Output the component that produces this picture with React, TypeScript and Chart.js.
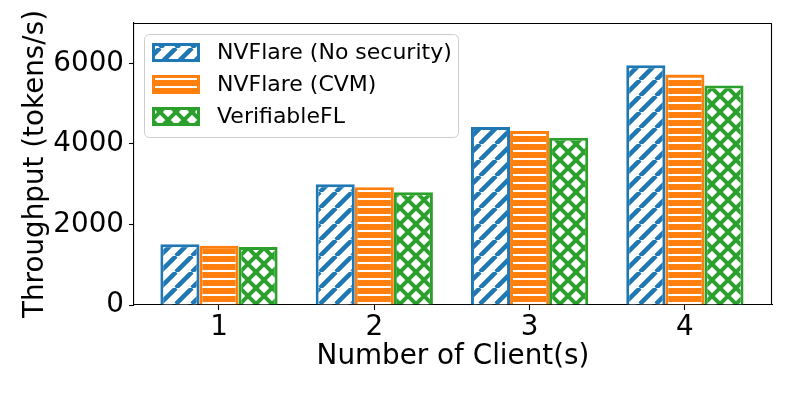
import React, { useEffect, useRef } from 'react';
import { Chart, registerables } from 'chart.js';

Chart.register(...registerables);

const CATEGORIES = [1, 2, 3, 4];
const TICK_LABELS = ['1', '2', '3', '4'];
const SERIES_NAMES = ['NVFlare (No security)', 'NVFlare (CVM)', 'VerifiableFL'];
const NO_SECURITY = [1510, 3000, 4420, 5950];
const CVM = [1470, 2920, 4320, 5720];
const VERIFIABLE_FL = [1440, 2800, 4150, 5450];
const Y_TICKS = [0, 2000, 4000, 6000];
const COLORS = ['#1f77b4', '#ff7f0e', '#2ca02c'];
const HATCHES = ['diag', 'horiz', 'cross'];

const FONT = "'DejaVu Sans', sans-serif";

function makePattern(ctx: CanvasRenderingContext2D, kind: string, color: string): CanvasPattern | string {
  const c = document.createElement('canvas');
  const g = c.getContext('2d');
  if (!g) return color;
  if (kind === 'diag') {
    const s = 16;
    c.width = s; c.height = s;
    g.fillStyle = '#fff'; g.fillRect(0, 0, s, s);
    g.strokeStyle = color; g.lineWidth = 4.5;
    g.beginPath();
    for (const k of [-1, 0, 1]) { g.moveTo(k * s, s); g.lineTo(k * s + s, 0); }
    g.stroke();
  } else if (kind === 'horiz') {
    c.width = 8; c.height = 8;
    g.fillStyle = '#fff'; g.fillRect(0, 0, 8, 8);
    g.fillStyle = color; g.fillRect(0, 0, 8, 6);
  } else {
    const s = 16;
    c.width = s; c.height = s;
    g.fillStyle = '#fff'; g.fillRect(0, 0, s, s);
    g.strokeStyle = color; g.lineWidth = 4;
    g.beginPath();
    for (const k of [-1, 0, 1]) {
      g.moveTo(k * s, s); g.lineTo(k * s + s, 0);
      g.moveTo(k * s, 0); g.lineTo(k * s + s, s);
    }
    g.stroke();
  }
  return ctx.createPattern(c, 'repeat') || color;
}

const mplPlugin = {
  id: 'mplDecor',
  afterDraw(chart: any) {
    const ctx: CanvasRenderingContext2D = chart.ctx;
    const a = chart.chartArea;
    ctx.save();
    // top and right spines
    ctx.strokeStyle = '#000';
    ctx.lineWidth = 1.1;
    ctx.beginPath();
    ctx.moveTo(a.left, a.top + 0.5);
    ctx.lineTo(a.right - 0.5, a.top + 0.5);
    ctx.lineTo(a.right - 0.5, a.bottom);
    ctx.stroke();
    // legend box
    ctx.beginPath();
    (ctx as any).roundRect(144.5, 34.5, 314, 103, 5);
    ctx.fillStyle = 'rgba(255,255,255,0.8)';
    ctx.fill();
    ctx.strokeStyle = '#cccccc';
    ctx.lineWidth = 1;
    ctx.stroke();
    chart.data.datasets.forEach((ds: any, i: number) => {
      const cy = 52.5 + i * 32;
      ctx.fillStyle = ds.backgroundColor;
      ctx.fillRect(153.5, cy - 8, 45, 16);
      ctx.strokeStyle = ds.borderColor;
      ctx.lineWidth = 3;
      ctx.strokeRect(153.5, cy - 8, 45, 16);
      ctx.fillStyle = '#000';
      ctx.font = `22px ${FONT}`;
      ctx.textBaseline = 'middle';
      ctx.textAlign = 'left';
      ctx.fillText(ds.label, 217, cy + 1);
    });
    ctx.restore();
  },
};

export default function App() {
  const ref = useRef<HTMLCanvasElement | null>(null);

  useEffect(() => {
    document.body.style.margin = '0';
    const canvas = ref.current;
    if (!canvas) return;
    const ctx = canvas.getContext('2d');
    if (!ctx) return;
    const seriesValues = [NO_SECURITY, CVM, VERIFIABLE_FL];
    const datasets = seriesValues.map((vals, i) => ({
      label: SERIES_NAMES[i],
      data: CATEGORIES.map((c, j) => ({ x: c, y: vals[j] })),
      backgroundColor: makePattern(ctx, HATCHES[i], COLORS[i]),
      borderColor: COLORS[i],
      borderWidth: 3,
      borderSkipped: 'start',
      categoryPercentage: 0.755,
      barPercentage: 1,
    }));

    const tickFont = { family: FONT, size: 27.8 };
    const titleFont = { family: FONT, size: 27.8 };

    const chart = new Chart(ctx, {
      type: 'bar',
      data: { datasets } as any,
      options: {
        animation: false,
        responsive: false,
        devicePixelRatio: 1,
        layout: { padding: { left: 0, top: 23, right: 21, bottom: 0 } },
        plugins: { legend: { display: false }, tooltip: { enabled: false } },
        scales: {
          x: {
            type: 'linear',
            offset: false,
            min: 0.4527,
            max: 4.561,
            afterBuildTicks: (s: any) => { s.ticks = CATEGORIES.map((v) => ({ value: v })); },
            afterFit: (s: any) => { s.height = 92; },
            ticks: {
              callback: (v: any) => TICK_LABELS[CATEGORIES.indexOf(Number(v))] ?? '',
              font: tickFont,
              color: '#000',
              padding: 1,
              maxRotation: 0,
              autoSkip: false,
            },
            grid: { display: true, offset: false, drawOnChartArea: false, drawTicks: true, tickLength: 5, tickColor: '#000', tickWidth: 1.1 },
            border: { display: true, color: '#000', width: 1.1 },
            title: { display: true, text: 'Number of Client(s)', font: titleFont, color: '#000', padding: { top: 0, bottom: 24 } },
          },
          y: {
            type: 'linear',
            min: 0,
            max: 7000,
            afterBuildTicks: (s: any) => { s.ticks = Y_TICKS.map((v) => ({ value: v })); },
            afterFit: (s: any) => { s.width = 134; },
            ticks: { font: tickFont, color: '#000', padding: 5, callback: (v: any) => String(v) },
            grid: { display: true, drawOnChartArea: false, drawTicks: true, tickLength: 5, tickColor: '#000', tickWidth: 1.1 },
            border: { display: true, color: '#000', width: 1.1 },
            title: { display: true, text: 'Throughput (tokens/s)', font: titleFont, color: '#000', padding: { top: 19, bottom: 0 } },
          },
        },
      } as any,
      plugins: [mplPlugin],
    });
    return () => chart.destroy();
  }, []);

  return (
    <div style={{ width: 793, height: 397 }}>
      <canvas ref={ref} width={793} height={397} style={{ display: 'block' }} />
    </div>
  );
}
